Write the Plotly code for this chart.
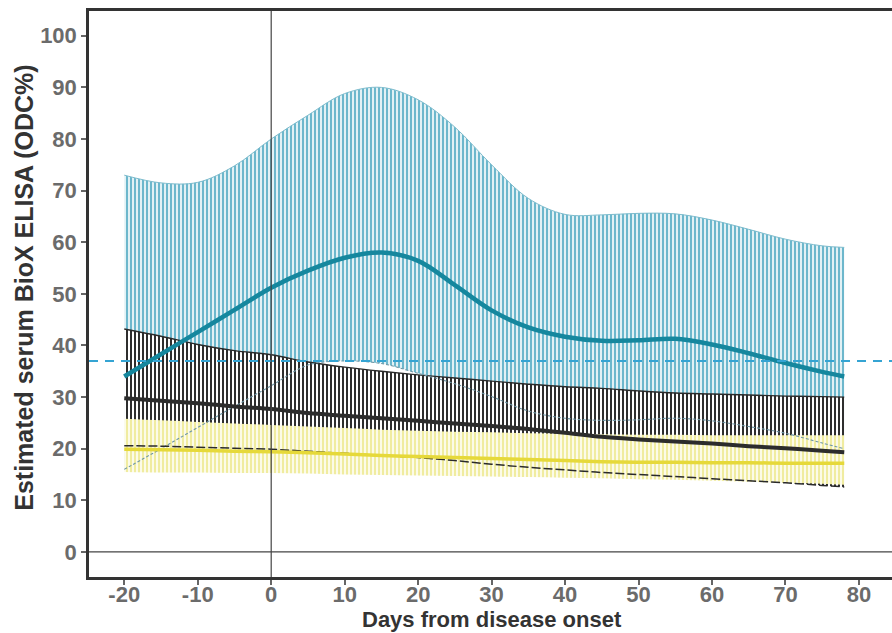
import plotly.graph_objects as go

days = [-20, -15, -10, -5, 0, 5, 10, 15, 20, 25, 30, 35, 40, 45, 50, 55, 60, 65, 70, 75, 78]

teal_mean = [34.0, 38.3, 42.6, 46.9, 51.2, 54.5, 57.0, 58.0, 56.4, 51.7, 46.8, 43.5, 41.7, 40.9, 41.0, 41.3, 40.2, 38.5, 36.6, 34.9, 34.0]
teal_upper = [73.0, 71.5, 71.6, 74.8, 80.0, 84.6, 88.8, 90.0, 87.6, 82.3, 75.0, 68.5, 65.4, 65.3, 65.6, 65.5, 64.3, 62.5, 60.6, 59.3, 59.0]
teal_lower = [16.0, 20.0, 24.1, 28.2, 32.2, 36.2, 37.0, 36.5, 34.6, 32.6, 30.1, 27.3, 25.9, 25.5, 25.6, 25.9, 25.4, 24.3, 23.0, 21.1, 20.0]

black_mean = [29.8, 29.3, 28.8, 28.2, 27.7, 26.9, 26.4, 25.9, 25.4, 24.9, 24.4, 23.8, 23.1, 22.3, 21.8, 21.4, 21.0, 20.5, 20.1, 19.6, 19.3]
black_upper = [43.2, 41.8, 40.2, 39.0, 38.2, 36.8, 35.8, 35.0, 34.3, 33.7, 33.1, 32.5, 32.0, 31.7, 31.2, 30.8, 30.6, 30.4, 30.2, 30.1, 30.0]
black_lower = [20.6, 20.5, 20.3, 20.1, 19.9, 19.5, 19.1, 18.7, 18.3, 17.7, 17.0, 16.4, 15.9, 15.4, 15.0, 14.6, 14.2, 13.8, 13.4, 12.9, 12.6]

yellow_mean = [19.9, 19.8, 19.7, 19.5, 19.4, 19.2, 19.0, 18.7, 18.5, 18.3, 18.1, 17.9, 17.7, 17.5, 17.4, 17.4, 17.3, 17.3, 17.2, 17.2, 17.2]
yellow_upper = [25.8, 25.5, 25.2, 24.9, 24.6, 24.3, 24.0, 23.7, 23.5, 23.3, 23.2, 23.0, 22.9, 22.8, 22.7, 22.7, 22.6, 22.6, 22.6, 22.6, 22.6]
yellow_lower = [15.5, 15.4, 15.4, 15.3, 15.3, 15.2, 15.0, 14.9, 14.8, 14.7, 14.6, 14.5, 14.4, 14.3, 14.1, 14.0, 13.8, 13.6, 13.4, 13.2, 13.0]

cutoff = 37
x_ticks = [-20, -10, 0, 10, 20, 30, 40, 50, 60, 70, 80]
x_tick_labels = ["-20", "-10", "0", "10", "20", "30", "40", "50", "60", "70", "80"]
y_ticks = [0, 10, 20, 30, 40, 50, 60, 70, 80, 90, 100]

FONT = "Liberation Sans, Arial, sans-serif"

fig = go.Figure()


def band(lower, upper, fg, bg, solidity):
    fig.add_trace(go.Scatter(x=days, y=lower, mode="lines", line=dict(width=0, shape="spline"),
                             showlegend=False, hoverinfo="skip"))
    fig.add_trace(go.Scatter(x=days, y=upper, mode="lines", line=dict(width=0, shape="spline"),
                             fill="tonexty", fillcolor=bg,
                             fillpattern=dict(shape="|", size=4, solidity=solidity,
                                              fgcolor=fg, bgcolor=bg, fillmode="replace"),
                             showlegend=False, hoverinfo="skip"))


def line(y, color, width, dash="solid"):
    fig.add_trace(go.Scatter(x=days, y=y, mode="lines",
                             line=dict(color=color, width=width, dash=dash, shape="spline"),
                             showlegend=False, hoverinfo="skip"))


band(teal_lower, teal_upper, "#4fa9c2", "#e2f1f5", 0.4)
band(black_lower, black_upper, "#2e2e2e", "#ffffff", 0.5)
band(yellow_lower, yellow_upper, "#eee98e", "#fcfbe8", 0.4)

# band edges
line(teal_upper, "#7dbccd", 1.0)
line(black_upper, "#2a2a2a", 1.4)
line(teal_lower, "#6f97a6", 1.1, "3px,2px")
line(black_lower, "#2a2a2a", 1.5, "9px,3px")

# mean curves
line(yellow_mean, "#e6d93a", 3.5)
line(black_mean, "#2c2c2c", 4)
line(teal_mean, "#15879e", 4.5)

fig.add_hline(y=cutoff, line=dict(color="#35a4d3", width=2, dash="9px,7px"))
fig.add_hline(y=0, line=dict(color="#444444", width=1.2))
fig.add_vline(x=0, line=dict(color="#444444", width=1.2))

tickfont = dict(family=FONT, size=22, color="#6b6b6b", weight="bold")

fig.update_layout(
    width=892, height=633,
    margin=dict(l=89, r=0, t=11, b=56),
    paper_bgcolor="white", plot_bgcolor="white",
    showlegend=False,
    xaxis=dict(range=[-24.8, 84.5], tickvals=x_ticks, ticktext=x_tick_labels,
               ticks="outside", ticklen=5, ticklabelstandoff=-9,
               tickcolor="#666666", tickwidth=1.5, showline=True, linecolor="#333333",
               linewidth=3, mirror=True, showgrid=False, zeroline=False, tickfont=tickfont),
    yaxis=dict(range=[-4.85, 104.8], tickvals=y_ticks, ticks="outside", ticklen=5,
               tickcolor="#666666", tickwidth=1.5, showline=True, linecolor="#333333",
               linewidth=2.5, showgrid=False, zeroline=False, tickfont=tickfont),
    annotations=[
        dict(text="Days from disease onset", xref="paper", yref="paper",
             x=(492 - 89) / 803, y=-(633 - 577) / 566, xanchor="center", yanchor="bottom",
             borderpad=0,
             showarrow=False, font=dict(family=FONT, size=22, color="#333333", weight="bold")),
        dict(text="Estimated serum BioX ELISA (ODC%)", xref="paper", yref="paper",
             x=(24 - 89) / 803, y=0.511, xanchor="center", yanchor="middle", textangle=-90,
             showarrow=False, font=dict(family=FONT, size=25, color="#333333", weight="bold")),
    ],
)

fig.write_html("out.html")
